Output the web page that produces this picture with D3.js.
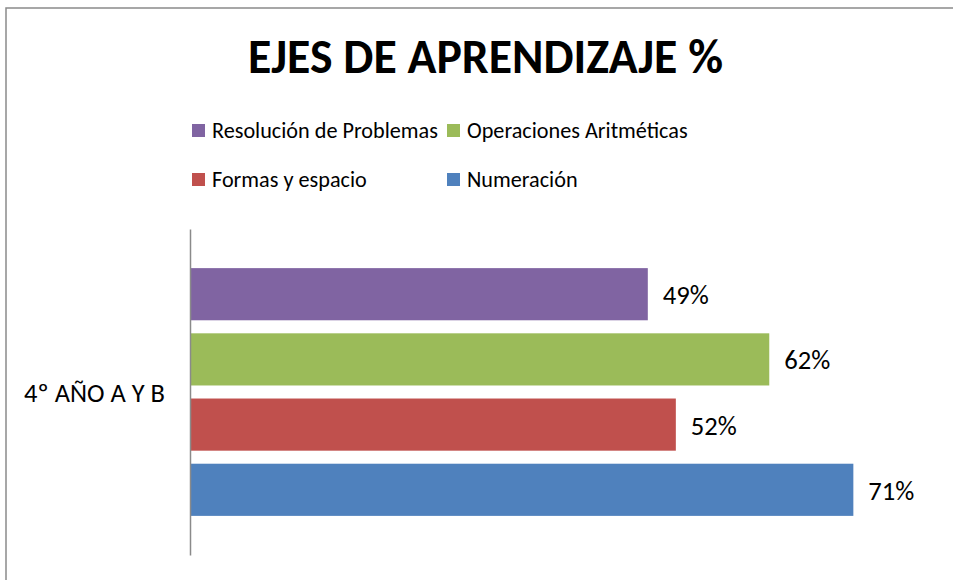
<!DOCTYPE html>
<html>
<head>
<meta charset="utf-8">
<title>EJES DE APRENDIZAJE %</title>
<script src="https://cdn.jsdelivr.net/npm/d3@7"></script>
<style>
	html, body { margin: 0; padding: 0; background: #fff; }
	svg { display: block; }
	text { font-family: Calibri, Carlito, Lato, sans-serif; fill: #000; }
</style>
</head>
<body>
<svg id="chart-1" width="953" height="580"></svg>
<script>
// Data.
const title = 'EJES DE APRENDIZAJE %';
const category = '4º AÑO A Y B';
const seriesNames = ['Resolución de Problemas', 'Operaciones Aritméticas', 'Formas y espacio', 'Numeración'];
const seriesValues = [0.49, 0.62, 0.52, 0.71];
const seriesColors = ['#8064A2', '#9BBB59', '#C0504D', '#4F81BD'];
// Legend order, as in the picture (two rows of two).
const legendOrder = [
	['Resolución de Problemas', 'Operaciones Aritméticas'],
	['Formas y espacio', 'Numeración']
];

const svg = d3.select('svg#chart-1');

// Scale a text's font-size so it spans the given width.
const fitWidth = (sel, target) => {
	sel.style('font-size', '100px');
	const len = sel.node().getComputedTextLength();
	const size = 100 * target / len;
	sel.style('font-size', size + 'px');
	return size;
};

// Chart frame (runs past the right and bottom edges).
svg.append('rect')
	.attr('x', 6)
	.attr('y', 8)
	.attr('width', 1000)
	.attr('height', 700)
	.attr('fill', 'none')
	.attr('stroke', '#8a8a8a')
	.attr('stroke-width', 1.5);

// Title
const t = svg.append('text')
	.attr('x', 485.5)
	.attr('y', 73)
	.attr('text-anchor', 'middle')
	.style('font-weight', 'bold')
	.text(title);
fitWidth(t, 475);

// Plot area
const x0 = 190;
const xScale = d3.scaleLinear()
	.domain([0, 0.8])
	.range([x0, x0 + 9.343 * 80]);

const yScale = d3.scaleBand()
	.domain(seriesNames)
	.range([229, 555])
	.paddingInner(0.2)
	.paddingOuter(0.6);

const colorScale = d3.scaleOrdinal()
	.domain(seriesNames)
	.range(seriesColors);

const rows = seriesNames.map((name, i) => ({name, value: seriesValues[i]}));

const g = svg.append('g');

g.selectAll('rect.bar').data(rows)
	.enter().append('rect')
		.attr('class', 'bar')
		.attr('x', xScale(0))
		.attr('y', d => yScale(d.name))
		.attr('width', d => xScale(d.value) - xScale(0))
		.attr('height', yScale.bandwidth())
		.attr('fill', d => colorScale(d.name));

// Vertical category axis, no ticks.
const yAxisScale = d3.scalePoint().domain([category]).range([229, 555]).padding(0.5);
const axisG = svg.append('g')
	.attr('transform', `translate(${x0},0)`)
	.call(d3.axisLeft(yAxisScale).tickSize(0).tickPadding(25).tickSizeOuter(0));
axisG.select('.domain')
	.attr('stroke', '#8a8a8a')
	.attr('stroke-width', 1.5);
const catLabel = axisG.selectAll('.tick text')
	.attr('fill', '#000')
	.attr('dy', null)
	.attr('y', 9)
	.style('font-family', 'Calibri, Carlito, Lato, sans-serif');
fitWidth(catLabel, 141);

// Value labels
const valueLabels = g.selectAll('text.value').data(rows)
	.enter().append('text')
		.attr('class', 'value')
		.attr('x', d => xScale(d.value) + 15)
		.attr('y', d => yScale(d.name) + yScale.bandwidth() / 2 + 10)
		.text(d => d3.format('.0%')(d.value));
const vSize = fitWidth(valueLabels.filter((d, i) => i === 0), 46);
valueLabels.style('font-size', vSize + 'px');

// Legend
const legendCols = [192, 447];
const legendRows = [124, 173];
const legendItems = [];
legendOrder.forEach((row, r) => {
	row.forEach((name, c) => legendItems.push({name, x: legendCols[c], y: legendRows[r]}));
});

const legend = svg.append('g').attr('class', 'legend');
const items = legend.selectAll('g').data(legendItems)
	.enter().append('g')
		.attr('transform', d => `translate(${d.x},${d.y})`);
items.append('rect')
	.attr('width', 13)
	.attr('height', 13)
	.attr('fill', d => colorScale(d.name));
const legendText = items.append('text')
	.attr('x', 20)
	.attr('y', 14)
	.text(d => d.name);
const lSize = fitWidth(legendText.filter(d => d.name === 'Resolución de Problemas'), 226);
legendText.style('font-size', lSize + 'px');
</script>
</body>
</html>
